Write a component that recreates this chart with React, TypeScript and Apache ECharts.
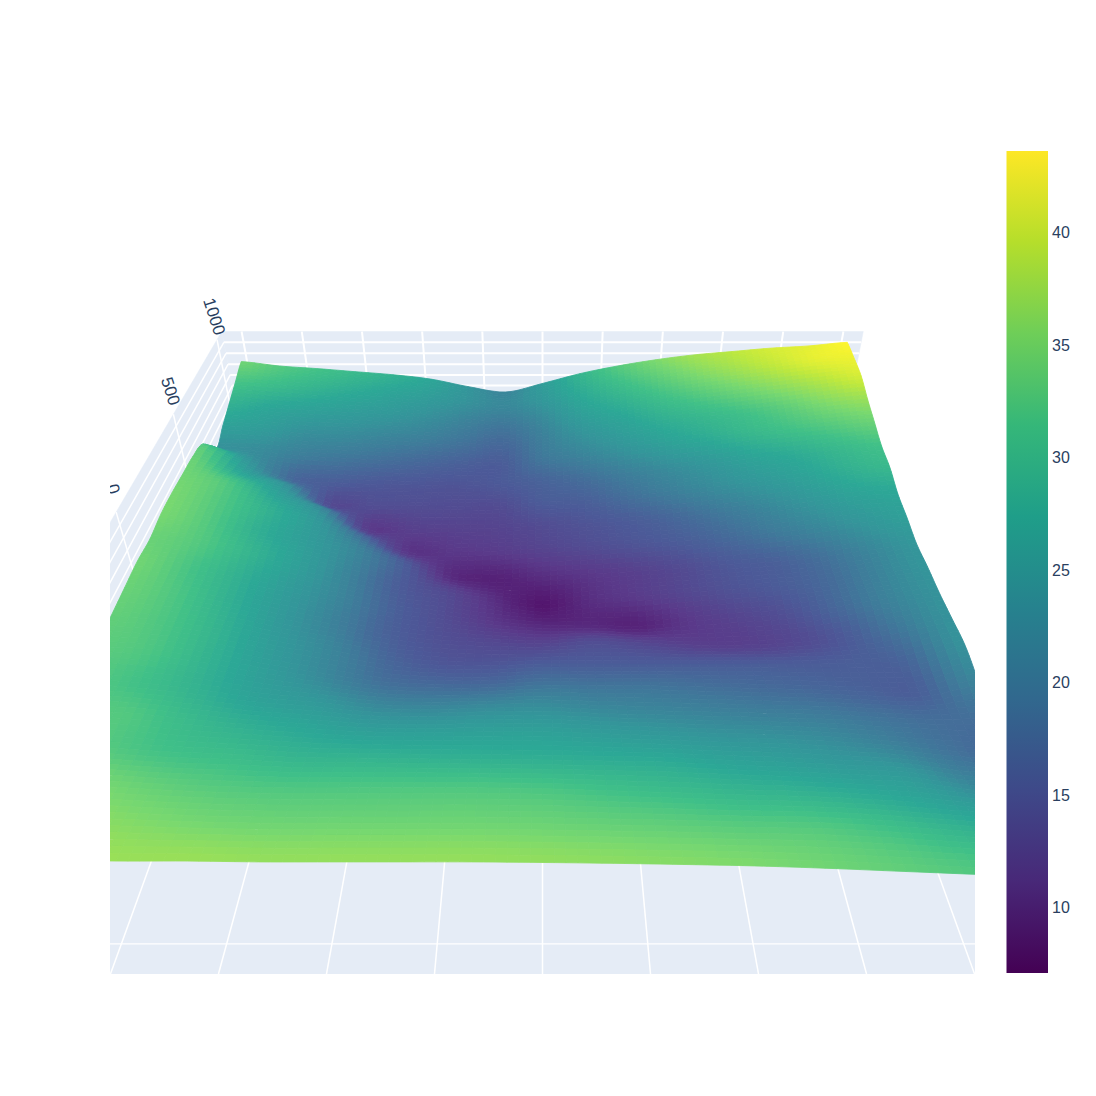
import React, { useEffect, useRef } from "react";
import * as echarts from "echarts";

// Surface sample positions (data units) and heights
const xGrid = [-1000,-875,-750,-625,-500,-375,-250,-125,0,125,250,375,500,625,750,875,1000];
const yGrid = [1000,900,800,700,600,500,400,300,200,100,0,-100,-200,-300,-400,-500,-600,-700,-800,-900,-1000];
const row00 = [35,33,31.8,30.4,29,27,23.5,21,25,29.5,33,35.8,38,39.5,41,42,43.6];
const row01 = [32,31,29.5,28,26.5,25,23,21.5,24,28,31,33.5,36,38,40,42,42.5];
const row02 = [29,27,26,25,24,22.5,20.5,19,21.5,26,28.5,31,33,35,37,39,41];
const row03 = [26,25,22.5,22,21,20,18.5,17,20,23.5,26,28.5,30,31.5,33.5,36,37.5];
const row04 = [23,22,20,19,18,17,16,15.5,19,21,23.5,26,28,30,31.5,33,34.5];
const row05 = [32.5,24,17,15.7,15,14.7,14.5,15.2,16.5,18,20,22,24,26.5,28,30,31.5];
const row06 = [34.5,27.5,23,13.5,13.7,13.7,13.5,13.5,15.5,16,18,20,22,24,26,28.5,30];
const row07 = [35,32.3,26.5,21,11.5,12,12.3,12.5,13.5,14.5,15.5,17,19,21,23.5,26,27];
const row08 = [35.5,32.8,29,24.5,17.5,10.8,11,11.5,12.5,13.5,14.5,15.5,17,19,21,23.5,25.5];
const row09 = [35.5,32.8,28.5,25,21,15.5,9.8,8.8,10,11,12,13.3,15,16,18,21,23.7];
const row10 = [34.5,32.8,29.5,25.5,20.5,15.5,13,10,7.6,10,11.3,12.8,14.3,15.5,17.3,20.5,23.5];
const row11 = [35,32,28.5,24.5,20.5,16,13.5,11,9.5,9.5,9,11,12.5,14,17,20.5,23];
const row12 = [34.5,32.3,28.5,24,20,16,14,13,12.5,13.5,12.8,12,12,13,15.2,19,23];
const row13 = [34,32.3,29,24.5,21,17,15,14.8,15.5,15.5,15.5,15.5,15.5,15.5,15.8,16.8,23];
const row14 = [33.5,32.3,29,25,21.5,18.5,17.7,17.7,18.7,18.5,18.5,18,17.5,17,16.3,16,21];
const row15 = [33,31.5,29,26,24.2,22,21.5,22,22.3,21.5,21,20.5,20,19.5,18.5,17.7,18];
const row16 = [33,32.8,30.5,28.5,27,25.7,25.5,25.7,25.7,25,24.3,23.5,23,22,20.5,18.5,17];
const row17 = [35,33,31.5,30.7,29.5,29.3,29,28.8,28.6,28.2,27.8,26.8,26,25,24,21,20];
const row18 = [37,35.5,34,33,32.5,32.5,32.5,32.5,32.2,31.5,30.8,30,29.5,28.5,27,25,23];
const row19 = [38,37,36,35.2,34.8,34.8,34.8,34.8,34.6,34.2,33.8,33.3,33,32,30.5,29,27];
const row20 = [38,38,37.5,37.5,37.2,37.2,37.2,37.2,37,36.7,36.3,35.8,35,34,33,32,31];
const zRows = [row00,row01,row02,row03,row04,row05,row06,row07,row08,row09,row10,row11,row12,row13,row14,row15,row16,row17,row18,row19,row20];

const xTicks = [-1000,-800,-600,-400,-200,0,200,400,600,800,1000];
const yTicks = [-1000,-500,0,500,1000];
const zTicks = [10,15,20,25,30,35,40];
const yTickLabels = ["1000","500","0"];
const yLabelValues = [1000,500,0];
const colorbarTicks = [10,15,20,25,30,35,40];
const viridis = ["#440154","#482878","#3e4989","#31688e","#26828e","#1f9e89","#35b779","#6ece58","#b5de2b","#fde725"];
// the same scale as the lit surface shows it
const litViridis = ["#52106a","#5a3a8a","#4c5a98","#3f7a9a","#34959a","#2ca896","#40c088","#78d870","#bde83e","#fff52c"];
const zMin = 7.1, zMax = 43.64;

// Camera of the 3D scene
const THETA = 36 * Math.PI / 180, F = 1044, CX = 542.5, CY = 541.5;
const XLIM = 1066, YLIM = 1062, ZBOT = 6.5, ZTOP = 44.8;
function project(x: number, y: number, z: number): [number, number] {
  const X = x / 1000 * 0.935;
  const Y = 2.015 + y / 1000 * 0.935;
  const h = 1.379 + (ZTOP - z) * 0.00755;
  const yc = Y * Math.sin(THETA) - h * Math.cos(THETA);
  const zc = Y * Math.cos(THETA) + h * Math.sin(THETA);
  return [CX + F * X / zc, CY - F * yc / zc];
}
function hexRgb(h: string) { return [1,3,5].map(i => parseInt(h.slice(i,i+2),16)); }
const vrgb = litViridis.map(hexRgb);
function colorOf(z: number) {
  const t = Math.max(0, Math.min(0.99999, (z - zMin) / (zMax - zMin))) * (vrgb.length - 1);
  const i = Math.floor(t), f = t - i;
  const c = vrgb[i].map((v, k) => Math.min(255, Math.round(v + (vrgb[i+1][k] - v) * f)));
  return `rgb(${c[0]},${c[1]},${c[2]})`;
}
const SUB = 6;
function cr(a: number, b: number, c: number, d: number, t: number) {
  return 0.5 * (2*b + (c-a)*t + (2*a-5*b+4*c-d)*t*t + (3*b-a-3*c+d)*t*t*t);
}
const NR = zRows.length, NC = zRows[0].length;
const rowAt = (k: number) => zRows[Math.max(0, Math.min(NR-1, k))];
const colAt = (k: number) => Math.max(0, Math.min(NC-1, k));
// how far shading may bend away from straight lines, per sample
function bendAt(i: number, j: number) {
  const z0 = zRows[i][j];
  const d = Math.max(
    Math.abs(z0 - rowAt(i-1)[j]), Math.abs(z0 - rowAt(i+1)[j]),
    Math.abs(z0 - zRows[i][colAt(j-1)]), Math.abs(z0 - zRows[i][colAt(j+1)]));
  return Math.min(1.2, 0.12 * d);
}
// smooth shading between the read samples; it is continuous across cells
function zSmooth(i: number, j: number, s: number, t: number) {
  const rowVal = (k: number) => { const r = rowAt(k); return cr(r[colAt(j-1)], r[colAt(j)], r[colAt(j+1)], r[colAt(j+2)], s); };
  const v = cr(rowVal(i-1), rowVal(i), rowVal(i+1), rowVal(i+2), t);
  const lerp = (a: number, b: number, c: number, d: number) => a*(1-s)*(1-t) + b*s*(1-t) + c*(1-s)*t + d*s*t;
  const zb = lerp(zRows[i][j], zRows[i][j+1], zRows[i+1][j], zRows[i+1][j+1]);
  const m = lerp(bendAt(i,j), bendAt(i,j+1), bendAt(i+1,j), bendAt(i+1,j+1));
  return Math.max(zb - m, Math.min(zb + m, v));
}

export default function App() {
  const ref = useRef<HTMLDivElement>(null);
  useEffect(() => {
    const chart = echarts.init(ref.current!, undefined, { renderer: "svg" });
    const WALL = "#E5ECF6";
    type Piece = { kind: "poly"|"line"; pts: [number,number,number][]; w?: number };
    const pieces: Piece[] = [];
    pieces.push({ kind:"poly", pts:[[-XLIM,-YLIM,ZBOT],[XLIM,-YLIM,ZBOT],[XLIM,YLIM,ZBOT],[-XLIM,YLIM,ZBOT]] });
    pieces.push({ kind:"poly", pts:[[-XLIM,YLIM,ZBOT],[XLIM,YLIM,ZBOT],[XLIM,YLIM,ZTOP],[-XLIM,YLIM,ZTOP]] });
    pieces.push({ kind:"poly", pts:[[-XLIM,-YLIM,ZBOT],[-XLIM,YLIM,ZBOT],[-XLIM,YLIM,ZTOP],[-XLIM,-YLIM,ZTOP]] });
    xTicks.forEach(x => {
      pieces.push({ kind:"line", w:1.5, pts:[[x,-YLIM,ZBOT],[x,YLIM,ZBOT]] });
      pieces.push({ kind:"line", w:2, pts:[[x,YLIM,ZBOT],[x,YLIM,ZTOP]] });
    });
    yTicks.forEach(y => {
      pieces.push({ kind:"line", w:1.2, pts:[[-XLIM,y,ZBOT],[XLIM,y,ZBOT]] });
      pieces.push({ kind:"line", w:1.5, pts:[[-XLIM,y,ZBOT],[-XLIM,y,ZTOP]] });
    });
    zTicks.forEach(z => {
      pieces.push({ kind:"line", w:2, pts:[[-XLIM,YLIM,z],[XLIM,YLIM,z]] });
      pieces.push({ kind:"line", w:1.5, pts:[[-XLIM,-YLIM,z],[-XLIM,YLIM,z]] });
    });
    const cells: number[][] = [];
    for (let i = 0; i < yGrid.length - 1; i++) for (let j = 0; j < xGrid.length - 1; j++) cells.push([i, j]);

    const toPx = (api: any, p: [number, number]) => api.coord(p);
    chart.setOption({
      animation: false,
      backgroundColor: "#fff",
      grid: [
        { left: 110, top: 0, width: 865, height: 974, containLabel: false },
        { left: 1006.5, top: 151, width: 41.5, height: 822, containLabel: false },
      ],
      xAxis: [
        { type: "value", gridIndex: 0, min: 110, max: 975, show: false },
        { type: "value", gridIndex: 1, min: 0, max: 1, show: false },
      ],
      yAxis: [
        { type: "value", gridIndex: 0, min: 0, max: 974, inverse: true, show: false },
        { type: "value", gridIndex: 1, min: zMin, max: zMax, position: "right",
          axisLine: { show: false }, axisTick: { show: false }, splitLine: { show: false },
          axisLabel: { customValues: colorbarTicks, margin: 4, fontSize: 16, color: "#2a3f5f", fontFamily: "Liberation Sans", padding: [6, 0, 0, 0] } },
      ],
      series: [
        {
          type: "custom", xAxisIndex: 0, yAxisIndex: 0, clip: true, silent: true,
          data: pieces.map((_, i) => [i, 0]), z: 1,
          renderItem: (params: any, api: any) => {
            const pc = pieces[api.value(0)];
            const pts = pc.pts.map(p => toPx(api, project(p[0], p[1], p[2])));
            if (pc.kind === "poly") return { type: "polygon", shape: { points: pts }, style: { fill: WALL, stroke: WALL, lineWidth: 0.5 } };
            return { type: "polyline", shape: { points: pts }, style: { fill: "none", stroke: "#fff", lineWidth: pc.w } };
          },
        },
        {
          type: "custom", xAxisIndex: 0, yAxisIndex: 0, clip: true, silent: true,
          data: cells, z: 2,
          renderItem: (params: any, api: any) => {
            const i = api.value(0), j = api.value(1);
            const y0 = yGrid[i], y1 = yGrid[i+1], x0 = xGrid[j], x1 = xGrid[j+1];
            const pAt = (s: number, t: number) => toPx(api, project(x0+(x1-x0)*s, y0+(y1-y0)*t, zSmooth(i,j,s,t)));
            const children: any[] = [];
            for (let q = 0; q < SUB; q++) for (let r = 0; r < SUB; r++) {
              const s0 = r/SUB, s1 = (r+1)/SUB, t0 = q/SUB, t1 = (q+1)/SUB;
              const col = colorOf(zSmooth(i, j, (s0+s1)/2, (t0+t1)/2));
              children.push({ type: "polygon", shape: { points: [pAt(s0,t0), pAt(s1,t0), pAt(s1,t1), pAt(s0,t1)] },
                style: { fill: col, stroke: col, lineWidth: 0.85, lineJoin: "bevel" } });
            }
            return { type: "group", children };
          },
        },
        {
          type: "custom", xAxisIndex: 0, yAxisIndex: 0, clip: true, silent: true,
          data: yLabelValues.map((v, i) => [v, i]), z: 3,
          renderItem: (params: any, api: any) => {
            const idx = api.value(1);
            const pt = toPx(api, project(-XLIM, api.value(0), ZTOP));
            return { type: "text", x: pt[0] - 3, y: pt[1] - 23, rotation: -72 * Math.PI / 180,
              style: { text: yTickLabels[idx], fill: "#2a3f5f", fontSize: 17, fontFamily: "Liberation Sans", textAlign: "center", textVerticalAlign: "middle" } };
          },
        },
        {
          type: "custom", xAxisIndex: 1, yAxisIndex: 1, silent: true,
          data: [[0, zMin, zMax]], z: 2,
          renderItem: (params: any, api: any) => {
            const p0 = api.coord([0, api.value(1)]), p1 = api.coord([1, api.value(2)]);
            return { type: "rect", shape: { x: p0[0], y: p1[1], width: p1[0]-p0[0], height: p0[1]-p1[1] },
              style: { fill: new echarts.graphic.LinearGradient(0, 1, 0, 0, viridis.map((c, i) => ({ offset: i/(viridis.length-1), color: c }))) } };
          },
        },
      ],
    });
    return () => chart.dispose();
  }, []);
  return <div ref={ref} style={{ position: "absolute", left: 0, top: 0, width: 1096, height: 1096 }} />;
}
